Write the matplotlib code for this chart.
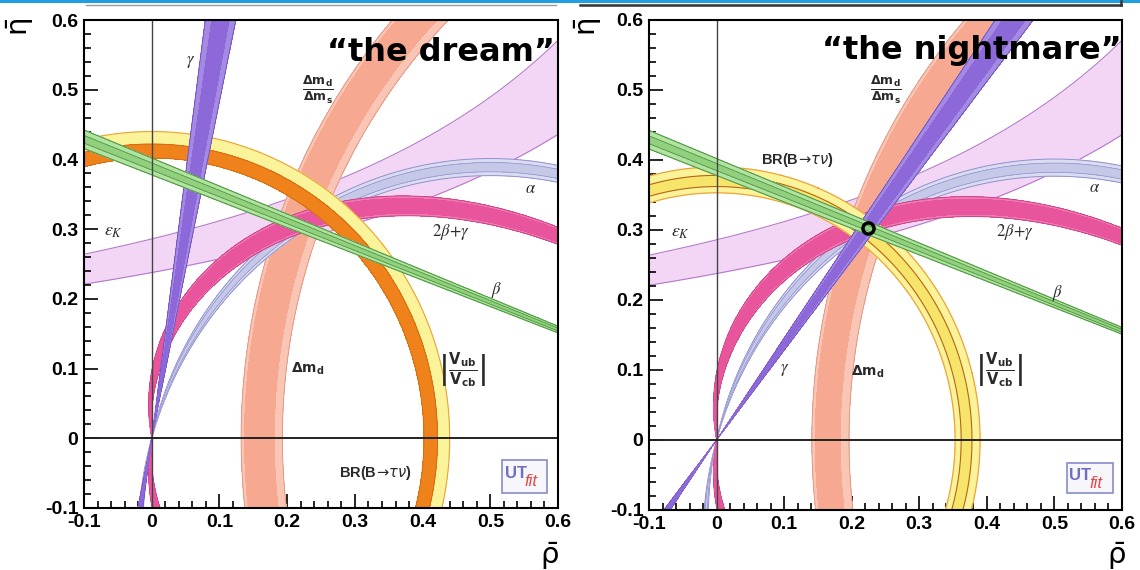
import numpy as np
import matplotlib
matplotlib.use("Agg")
import matplotlib.pyplot as plt
from matplotlib.lines import Line2D
from matplotlib.patches import Rectangle
from matplotlib.ticker import FixedLocator, MultipleLocator

plt.rcParams["font.family"] = ["Liberation Sans", "DejaVu Sans"]
plt.rcParams["mathtext.fontset"] = "dejavusans"

# ---------------- axes ----------------
RHO_RANGE = [-0.1, 0.6]
ETA_RANGE = [-0.1, 0.6]
MAJOR_TICKS = [-0.1, 0.0, 0.1, 0.2, 0.3, 0.4, 0.5, 0.6]
TICK_LABELS = ["-0.1", "0", "0.1", "0.2", "0.3", "0.4", "0.5", "0.6"]
PANEL_TITLES = ["\u201cthe dream\u201d", "\u201cthe nightmare\u201d"]

# ---------------- constraints (95% band, 68% core), angles in degrees ----------------
GAMMA_DREAM = [78.3, 82.5]
GAMMA_DREAM_CORE = [79.2, 81.6]
GAMMA_NIGHTMARE = [52.0, 55.5]
GAMMA_NIGHTMARE_CORE = [52.7, 54.8]
BETA = [20.7, 21.9]
BETA_CORE = [21.05, 21.55]
ALPHA = [102.5, 106.0]
ALPHA_CORE = [103.3, 105.2]
TWO_BETA_GAMMA = [94.5, 101.0]
TWO_BETA_GAMMA_CORE = [95.3, 100.2]
# eps_K edges: eta = c / (a - rho), given as (a, c)
EPSK_LOWER = [1.3195, 0.3137]
EPSK_UPPER = [1.202, 0.3437]
# Delta m_d and Delta m_d / Delta m_s: radius about (DMD_CENTER, 0)
DMD_CENTER = 1.05
DMD_DREAM = [0.857, 0.918]
DMD_DREAM_CORE = [0.869, 0.913]
DMD_NIGHTMARE = [0.854, 0.909]
DMD_NIGHTMARE_CORE = [0.867, 0.904]
# |Vub/Vcb| and BR(B -> tau nu): radius about the origin
VUB_DREAM = [0.422, 0.440]
BRTAU_DREAM = [0.402, 0.422]
VUB_NIGHTMARE = [0.353, 0.390]
BRTAU_NIGHTMARE = [0.362, 0.378]
APEX_NIGHTMARE = [0.224, 0.303]

# ---------------- colours ----------------
C_EPSK, E_EPSK = "#f3d6f5", "#b57ac8"
C_DMD, C_DMD_CORE, E_DMD = "#f9c6b6", "#f6a990", "#e3907e"
C_ALPHA, C_ALPHA_CORE, E_ALPHA = "#dcdcf0", "#c5c8e6", "#9090d0"
C_SUM, C_SUM_CORE, E_SUM = "#f07ab5", "#e8559c", "#c43c7c"
C_GAMMA, C_GAMMA_CORE, E_GAMMA = "#a58ae4", "#8c68d8", "#6a4cbc"
C_BETA, C_BETA_CORE, E_BETA = "#b4e2a2", "#92d07e", "#4f9a45"

# ---------------- evaluation grid ----------------
rho = np.linspace(RHO_RANGE[0], RHO_RANGE[1], 1401)
eta = np.linspace(ETA_RANGE[0], ETA_RANGE[1], 1401)
R, E = np.meshgrid(rho, eta)
P = R + 1j * E


def line_field(origin, angle):
    return np.imag((P - origin) * np.exp(-1j * np.radians(angle)))


def alpha_field(angle):
    return np.imag((P - 1) * np.conj(P) * np.exp(-1j * np.radians(angle)))


def sum_field(angle):
    # sin(2beta+gamma): below the real axis the supplementary solution is used
    z = (1 - np.conj(P)) ** 2 * P
    up = np.imag(z * np.exp(-1j * np.radians(angle)))
    down = np.imag(z * np.exp(-1j * np.radians(180.0 - angle)))
    return np.where(E >= 0, up, down)


def band(ax, f1, f2, color, z, edge=None, lw=0.8):
    prod = f1 * f2
    ax.contourf(R, E, prod, levels=[prod.min() - 1.0, 0.0], colors=[color], zorder=z)
    if edge:
        for f in (f1, f2):
            ax.contour(R, E, f, levels=[0.0], colors=[edge], linewidths=lw, zorder=z)


def ring(ax, center, radii, color, z, edge=None, lw=0.8):
    d = np.abs(P - center)
    ax.contourf(R, E, d, levels=radii, colors=[color], zorder=z)
    if edge:
        ax.contour(R, E, d, levels=radii, colors=[edge], linewidths=lw, zorder=z)


def epsk(ax, z):
    r = np.linspace(RHO_RANGE[0], RHO_RANGE[1], 400)
    lo = EPSK_LOWER[1] / (EPSK_LOWER[0] - r)
    hi = EPSK_UPPER[1] / (EPSK_UPPER[0] - r)
    ax.fill_between(r, lo, hi, color=C_EPSK, lw=0, zorder=z)
    ax.plot(r, lo, color=E_EPSK, lw=0.8, zorder=z)
    ax.plot(r, hi, color=E_EPSK, lw=0.8, zorder=z)


def common_bands(ax, dmd, dmd_core):
    epsk(ax, 1)
    ring(ax, DMD_CENTER, dmd, C_DMD, 2, E_DMD, 0.6)
    ring(ax, DMD_CENTER, dmd_core, C_DMD_CORE, 2.1)
    band(ax, alpha_field(ALPHA[0]), alpha_field(ALPHA[1]), C_ALPHA, 3, E_ALPHA, 0.7)
    band(ax, alpha_field(ALPHA_CORE[0]), alpha_field(ALPHA_CORE[1]), C_ALPHA_CORE, 3.1, E_ALPHA, 0.5)
    band(ax, sum_field(TWO_BETA_GAMMA[0]), sum_field(TWO_BETA_GAMMA[1]), C_SUM, 4, E_SUM, 0.6)
    band(ax, sum_field(TWO_BETA_GAMMA_CORE[0]), sum_field(TWO_BETA_GAMMA_CORE[1]), C_SUM_CORE, 4.1)


def beta_band(ax):
    band(ax, line_field(1.0, 180 - BETA[0]), line_field(1.0, 180 - BETA[1]), C_BETA, 8, E_BETA, 0.8)
    band(ax, line_field(1.0, 180 - BETA_CORE[0]), line_field(1.0, 180 - BETA_CORE[1]), C_BETA_CORE, 8.1, E_BETA, 0.6)


def gamma_band(ax, g, g_core):
    band(ax, line_field(0.0, g[0]), line_field(0.0, g[1]), C_GAMMA, 7, E_GAMMA, 0.6)
    band(ax, line_field(0.0, g_core[0]), line_field(0.0, g_core[1]), C_GAMMA_CORE, 7.1)


def utfit(ax, x0, y0, x1, y1):
    ax.add_patch(Rectangle((x0, y0), x1 - x0, y1 - y0, facecolor="#f6f6fb",
                           edgecolor="#8f95cc", lw=1.3, zorder=11))
    ym = 0.5 * (y0 + y1)
    ax.text(x0 + 0.004, ym + 0.004, "UT", color="#6e6ec4", fontsize=12,
            fontweight="bold", ha="left", va="center", zorder=12)
    ax.text(x0 + 0.034, ym - 0.007, "fit", color="#e24848", fontsize=12,
            style="italic", ha="left", va="center", zorder=12)


def frame(ax):
    ax.set_xlim(RHO_RANGE)
    ax.set_ylim(ETA_RANGE)
    ax.xaxis.set_major_locator(FixedLocator(MAJOR_TICKS))
    ax.yaxis.set_major_locator(FixedLocator(MAJOR_TICKS))
    ax.set_xticklabels(TICK_LABELS)
    ax.set_yticklabels(TICK_LABELS)
    ax.xaxis.set_minor_locator(MultipleLocator(0.02))
    ax.yaxis.set_minor_locator(MultipleLocator(0.02))
    ax.tick_params(which="both", direction="in", top=False, right=False,
                   labelsize=14, width=1.2, color="black", pad=4)
    ax.tick_params(which="major", length=10)
    ax.tick_params(which="minor", length=5)
    for lab in ax.get_xticklabels() + ax.get_yticklabels():
        lab.set_fontweight("bold")
    for s in ax.spines.values():
        s.set_linewidth(1.5)
        s.set_zorder(20)
    ax.axvline(0, color="#444444", lw=1.0, zorder=9)
    ax.axhline(0, color="#222222", lw=1.4, zorder=9)


GREEK = dict(math_fontfamily="stix", color="#2a2a2a", ha="center", va="center", zorder=10)
SANS = dict(color="#2a2a2a", ha="center", va="center", zorder=10)
BR_TEXT = r"BR(B$\!\rightarrow\!\tau\nu$)"

fig = plt.figure(figsize=(11.4, 5.7), dpi=100)
ax1 = fig.add_axes([0.0737, 0.1088, 0.4158, 0.8561])
ax2 = fig.add_axes([0.5693, 0.1053, 0.4149, 0.8597])

# ---------- "the dream" ----------
common_bands(ax1, DMD_DREAM, DMD_DREAM_CORE)
ring(ax1, 0.0, VUB_DREAM, "#fbf39a", 5, "#e8a43a", 0.8)
ring(ax1, 0.0, BRTAU_DREAM, "#f0821c", 6, "#cf6a10", 0.6)
gamma_band(ax1, GAMMA_DREAM, GAMMA_DREAM_CORE)
beta_band(ax1)
frame(ax1)
ax1.text(0.427, 0.554, PANEL_TITLES[0], fontsize=23, fontweight="bold",
         family="DejaVu Sans", ha="center", va="center", zorder=15)
ax1.text(0.057, 0.540, r"$\gamma$", fontsize=12, **GREEK)
ax1.text(0.246, 0.500, r"$\frac{\mathbf{\Delta m_d}}{\mathbf{\Delta m_s}}$", fontsize=13, **SANS)
ax1.text(-0.057, 0.296, r"$\varepsilon_K$", fontsize=13, **GREEK)
ax1.text(0.560, 0.359, r"$\alpha$", fontsize=12, **GREEK)
ax1.text(0.442, 0.296, r"$2\beta\!+\!\gamma$", fontsize=12, **GREEK)
ax1.text(0.509, 0.213, r"$\beta$", fontsize=12, **GREEK)
ax1.text(0.230, 0.100, r"$\mathbf{\Delta m_d}$", fontsize=10, **SANS)
ax1.text(0.458, 0.098, r"$\left|\frac{\mathbf{V_{ub}}}{\mathbf{V_{cb}}}\right|$", fontsize=15, **SANS)
ax1.text(0.330, -0.050, BR_TEXT, fontsize=10.5, fontweight="bold", **SANS)
utfit(ax1, 0.517, -0.079, 0.584, -0.031)

# ---------- "the nightmare" ----------
common_bands(ax2, DMD_NIGHTMARE, DMD_NIGHTMARE_CORE)
ring(ax2, 0.0, VUB_NIGHTMARE, "#fbf39a", 5, "#eda43a", 0.9)
ring(ax2, 0.0, BRTAU_NIGHTMARE, "#f7e46a", 6, "#b8661a", 0.8)
gamma_band(ax2, GAMMA_NIGHTMARE, GAMMA_NIGHTMARE_CORE)
beta_band(ax2)
frame(ax2)
ax2.plot([APEX_NIGHTMARE[0]], [APEX_NIGHTMARE[1]], marker="o", ms=8, mfc="none",
         mec="black", mew=2.5, zorder=14)
ax2.text(0.378, 0.557, PANEL_TITLES[1], fontsize=23, fontweight="bold",
         family="DejaVu Sans", ha="center", va="center", zorder=15)
ax2.text(0.250, 0.500, r"$\frac{\mathbf{\Delta m_d}}{\mathbf{\Delta m_s}}$", fontsize=13, **SANS)
ax2.text(0.119, 0.400, BR_TEXT, fontsize=10.5, fontweight="bold", **SANS)
ax2.text(-0.053, 0.297, r"$\varepsilon_K$", fontsize=13, **GREEK)
ax2.text(0.560, 0.360, r"$\alpha$", fontsize=12, **GREEK)
ax2.text(0.442, 0.297, r"$2\beta\!+\!\gamma$", fontsize=12, **GREEK)
ax2.text(0.504, 0.210, r"$\beta$", fontsize=12, **GREEK)
ax2.text(0.100, 0.100, r"$\gamma$", fontsize=12, **GREEK)
ax2.text(0.224, 0.097, r"$\mathbf{\Delta m_d}$", fontsize=10, **SANS)
ax2.text(0.418, 0.100, r"$\left|\frac{\mathbf{V_{ub}}}{\mathbf{V_{cb}}}\right|$", fontsize=15, **SANS)
utfit(ax2, 0.518, -0.076, 0.586, -0.033)

# axis titles
for x_eta, x_rho in ((0.0175, 0.4816), (0.516, 0.979)):
    fig.text(x_eta, 0.952, r"$\bar{\mathrm{\eta}}$", fontsize=21, rotation=90,
             ha="center", va="center")
    fig.text(x_rho, 0.025, r"$\bar{\mathrm{\rho}}$", fontsize=21,
             ha="center", va="center")

# slide border lines along the top edge
fig.add_artist(Line2D([0, 1], [0.9975, 0.9975], color="#1f9fe0", lw=2.2))
fig.add_artist(Line2D([86 / 1140, 556 / 1140], [0.991, 0.991], color="#9a9a9a", lw=1.0))
fig.add_artist(Line2D([580 / 1140, 1121 / 1140], [0.9905, 0.9905], color="#333333", lw=1.8))
fig.add_artist(Line2D([1121 / 1140, 1121 / 1140], [0.9905, 0.999], color="#333333", lw=1.8))

fig.savefig("out.png", dpi=100, facecolor="white")
